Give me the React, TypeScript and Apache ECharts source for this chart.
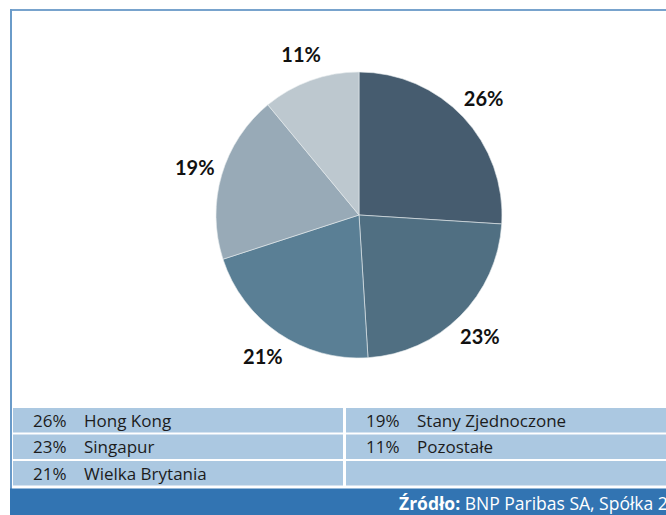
import React, { useEffect, useRef } from "react";
import * as echarts from "echarts";

const categories = ["Hong Kong", "Singapur", "Wielka Brytania", "Stany Zjednoczone", "Pozostałe"];
const shares = [26, 23, 21, 19, 11];
const sliceColors = ["#465c6f", "#506f82", "#5a7f95", "#98aab7", "#bdc8cf"];
const sourceBold = "Źródło:";
const sourceText = " BNP Paribas SA, Spółka 2";

export default function App() {
  const ref = useRef<HTMLDivElement>(null);
  useEffect(() => {
    if (!ref.current) return;
    const chart = echarts.init(ref.current, null, { renderer: "svg" });
    const data = categories.map((name, i) => ({ name, value: shares[i], itemStyle: { color: sliceColors[i] } }));

    const rowTop = [408, 434.5, 461];
    const rowH = 24.5;
    const cols = [
      { x: 13, w: 330, pctX: 33, nameX: 84 },
      { x: 346, w: 320, pctX: 366, nameX: 417 },
    ];
    const graphics: any[] = [];
    graphics.push({ type: "line", shape: { x1: 10, y1: 10, x2: 666, y2: 10 }, style: { stroke: "#78a3cd", lineWidth: 2 } });
    graphics.push({ type: "line", shape: { x1: 11, y1: 9, x2: 11, y2: 489 }, style: { stroke: "#6a9bc9", lineWidth: 2 } });
    rowTop.forEach((y) => {
      cols.forEach((c) => {
        graphics.push({ type: "rect", shape: { x: c.x, y, width: c.w, height: rowH }, style: { fill: "#abc8e1" } });
      });
    });
    categories.forEach((name, i) => {
      const col = i < 3 ? cols[0] : cols[1];
      const row = i < 3 ? i : i - 3;
      const cy = rowTop[row] + rowH / 2;
      graphics.push({
        type: "text", x: col.pctX, y: cy,
        style: { text: shares[i] + "%", fill: "#1c1c1c", font: "17px 'Open Sans'", textVerticalAlign: "middle" },
      });
      graphics.push({
        type: "text", x: col.nameX, y: cy,
        style: { text: name, fill: "#1c1c1c", font: "17px 'Open Sans'", textVerticalAlign: "middle" },
      });
    });
    graphics.push({ type: "rect", shape: { x: 10, y: 488.5, width: 656, height: 27 }, style: { fill: "#3274b2" } });
    graphics.push({
      type: "text", x: 399, y: 502.5,
      style: {
        text: "{b|" + sourceBold + "}{n|" + sourceText + "}",
        textVerticalAlign: "middle",
        rich: {
          b: { fill: "#ffffff", fontFamily: "Open Sans", fontWeight: "bold", fontSize: 17.5 },
          n: { fill: "#ffffff", fontFamily: "Open Sans", fontSize: 17.5 },
        },
      },
    });

    chart.setOption({
      animation: false,
      backgroundColor: "#ffffff",
      series: [
        {
          type: "pie",
          center: [359, 215],
          radius: [0, 143],
          startAngle: 90,
          clockwise: true,
          silent: true,
          data,
          label: { show: false },
          labelLine: { show: false },
          itemStyle: { borderColor: "#e8ecef", borderWidth: 0.6 },
        },
        {
          type: "pie",
          center: [359, 215],
          radius: [148, 188],
          startAngle: 90,
          clockwise: true,
          silent: true,
          data: categories.map((name, i) => ({ name, value: shares[i] })),
          itemStyle: { color: "transparent" },
          label: {
            show: true,
            position: "inside",
            formatter: "{c}%",
            color: "#111111",
            fontFamily: "Lato",
            fontWeight: "bold",
            fontSize: 20,
          },
          labelLine: { show: false },
        },
      ],
      graphic: graphics,
    });
    return () => chart.dispose();
  }, []);
  return <div ref={ref} style={{ position: "fixed", left: 0, top: 0, width: 666, height: 515 }} />;
}
